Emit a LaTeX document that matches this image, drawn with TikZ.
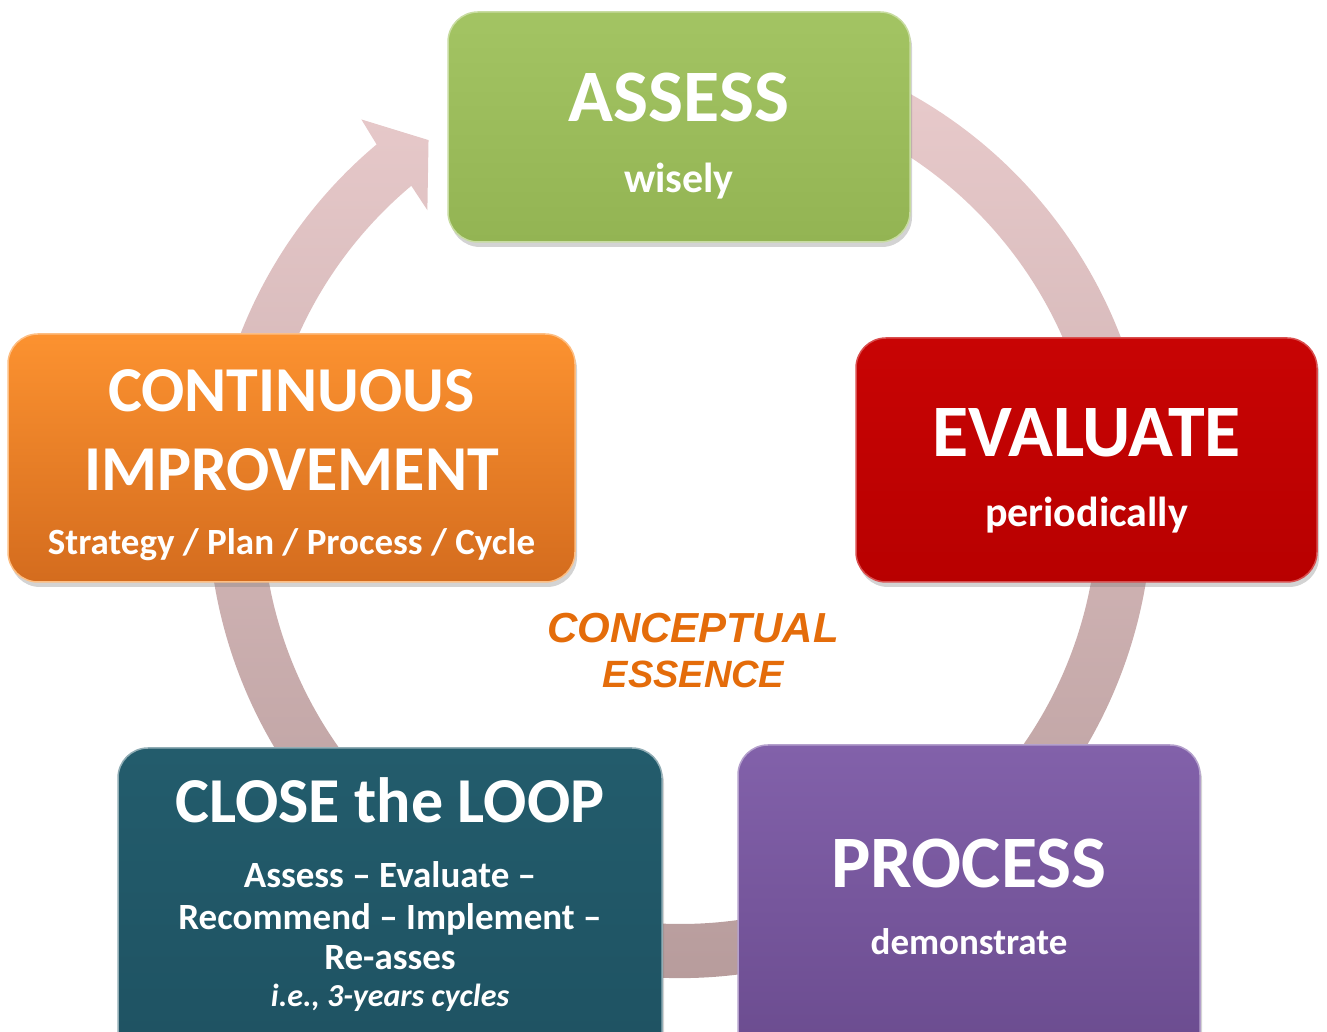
\documentclass[tikz,border=0pt]{standalone}
\usepackage{fontspec}
\setmainfont{Carlito}
\newfontfamily\arialfont{Liberation Sans}
\usetikzlibrary{shadows,positioning}

\definecolor{ringtop}{HTML}{E9CBCC}
\definecolor{ringbot}{HTML}{B49999}
\definecolor{greentop}{HTML}{A3C463}
\definecolor{greenbot}{HTML}{93B453}
\definecolor{redtop}{HTML}{C80404}
\definecolor{redbot}{HTML}{B80000}
\definecolor{purpletop}{HTML}{8261AA}
\definecolor{purplebot}{HTML}{6A4B8E}
\definecolor{tealtop}{HTML}{235C6C}
\definecolor{tealbot}{HTML}{1E5262}
\definecolor{orangetop}{HTML}{FC9230}
\definecolor{orangebot}{HTML}{D46C1E}
\definecolor{essence}{HTML}{E46C0A}

\begin{document}
\begin{tikzpicture}[x=1pt, y=1pt,
    stage/.style={
      rectangle,
      rounded corners=30pt,
      inner sep=0pt,
      outer sep=0pt,
      line width=1.5pt,
      drop shadow={opacity=0.35, shadow xshift=2pt, shadow yshift=-5pt},
    },
    headline/.style={
      text=white,
      anchor=base,
      inner sep=0pt,
      font=\fontsize{74}{80}\selectfont\bfseries,
    },
    bigline/.style={headline, font=\fontsize{64}{70}\selectfont\bfseries},
    subline/.style={headline, font=\fontsize{42}{48}\selectfont\bfseries},
    smallline/.style={headline, font=\fontsize{37}{42}\selectfont\bfseries},
    essay/.style={
      text=essence,
      anchor=base,
      inner sep=0pt,
      font=\arialfont\fontsize{42}{46}\selectfont\bfseries\itshape,
    },
  ]
  \clip (0,0) rectangle (1327,1032);

  % circular arrow behind the boxes
  \coordinate (hub) at (680,526);
  \shade[top color=ringtop, bottom color=ringbot]
    ([shift={(70:472)}]hub) arc[start angle=70, end angle=-230, radius=472]
    -- ([shift={(129.5:501)}]hub)
    -- ([shift={(124.5:444)}]hub)
    -- ([shift={(130.5:389)}]hub)
    -- ([shift={(130:418)}]hub) arc[start angle=-230, end angle=70, radius=418]
    -- cycle;

  % the five stages
  \node[stage, top color=greentop, bottom color=greenbot, draw=greentop!60!white,
        minimum width=462pt, minimum height=230pt] (assess) at (679,905) {};
  \node[stage, top color=redtop, bottom color=redbot, draw=redtop!70!white,
        minimum width=461pt, minimum height=244pt] (evaluate) at (1086.5,572) {};
  \node[stage, top color=purpletop, bottom color=purplebot, draw=purpletop!60!white,
        minimum width=462pt, minimum height=320pt] (process) at (969,127) {};
  \node[stage, top color=tealtop, bottom color=tealbot, draw=tealtop!50!white,
        minimum width=544pt, minimum height=320pt] (close) at (390,124) {};
  \node[stage, top color=orangetop, bottom color=orangebot, draw=orangetop!60!white,
        minimum width=567pt, minimum height=248pt] (improve) at (291.5,574) {};

  % texts
  \node[headline] (assessT) at (679,910) {ASSESS};
  \node[subline] (assessS) at (679,839) {wisely};

  \node[headline] (evaluateT) at (1086.5,575) {EVALUATE};
  \node[subline] (evaluateS) at (1086.5,505) {periodically};

  \node[headline] (processT) at (969,144) {PROCESS};
  \node[subline, font=\fontsize{37}{42}\selectfont\bfseries] (processS) at (969,77) {demonstrate};

  \node[bigline] (closeT) at (390,209) {CLOSE the LOOP};
  \node[smallline] (closeA) at (390,144) {Assess -- Evaluate --};
  \node[smallline] (closeB) at (390,102) {Recommend -- Implement --};
  \node[smallline] (closeC) at (390,62) {Re-asses};
  \node[smallline, font=\fontsize{32}{38}\selectfont\bfseries\itshape] (closeD) at (390,25) {i.e., 3-years cycles};

  \node[bigline] (improveA) at (291.5,620) {CONTINUOUS};
  \node[bigline] (improveB) at (291.5,541) {IMPROVEMENT};
  \node[smallline] (improveC) at (291.5,477) {Strategy / Plan / Process / Cycle};

  \node[essay] (concept) at (693,389) {CONCEPTUAL};
  \node[essay, font=\arialfont\fontsize{38}{42}\selectfont\bfseries\itshape] (essenceT) at (693.5,344) {ESSENCE};
\end{tikzpicture}
\end{document}
